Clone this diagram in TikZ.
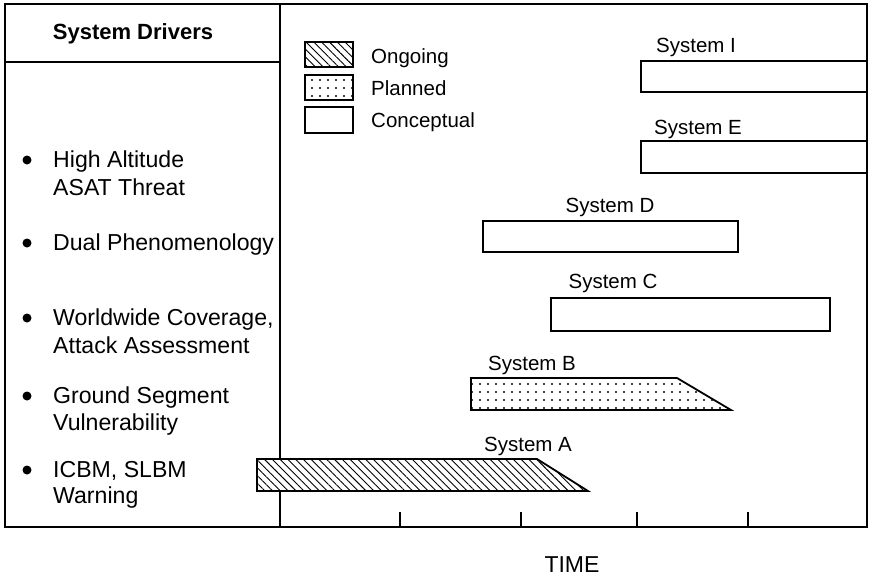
\documentclass[tikz,border=0pt]{standalone}
\usepackage{fontspec}
\setmainfont{Liberation Sans}
\usetikzlibrary{patterns.meta}
\begin{document}
\begin{tikzpicture}[x=1pt,y=-1pt,
  frame/.style={line width=2pt},
  bar/.style={line width=1.8pt},
  lab/.style={font=\fontsize{20.5}{24}\selectfont, inner sep=0pt, anchor=base},
  leg/.style={font=\fontsize{20.5}{24}\selectfont, inner sep=0pt, anchor=base west},
  drv/.style={font=\fontsize{23.1}{27}\selectfont, inner sep=0pt, anchor=base west},
  bul/.style={circle, fill, inner sep=0pt, minimum size=9pt},
  ongoing/.style={bar, preaction={fill=white}, pattern={Lines[angle=-45,distance=5.5pt,line width=0.9pt]}},
  planned/.style={bar, preaction={fill=white}, pattern={Dots[distance=8pt,radius=1.1pt]}},
  conceptual/.style={bar, fill=white},
]
\useasboundingbox (0,0) rectangle (869,576);

% frame
\draw[frame] (5,4) rectangle (867,527);
\draw[frame] (280,4) -- (280,527);
\draw[frame] (5,62) -- (280,62);
\foreach \t in {400,521,637,748} \draw[frame] (\t,527) -- (\t,512);

% header
\node[font=\fontsize{22}{26}\selectfont\bfseries, inner sep=0pt, anchor=base] (hdr) at (133,39) {System Drivers};

% drivers
\node[bul] (b1) at (27,160) {};
\node[drv] (d1a) at (53,167) {High Altitude};
\node[drv] (d1b) at (53,195) {ASAT Threat};
\node[bul] (b2) at (27,243) {};
\node[drv] (d2a) at (53,250) {Dual Phenomenology};
\node[bul] (b3) at (27,318) {};
\node[drv] (d3a) at (53,325) {Worldwide Coverage,};
\node[drv] (d3b) at (53,353) {Attack Assessment};
\node[bul] (b4) at (27,396) {};
\node[drv] (d4a) at (53,403) {Ground Segment};
\node[drv] (d4b) at (53,430) {Vulnerability};
\node[bul] (b5) at (27,470) {};
\node[drv] (d5a) at (53,477) {ICBM, SLBM};
\node[drv] (d5b) at (53,503) {Warning};

% legend
\draw[ongoing] (305,42) rectangle (353,67);
\draw[planned] (305,75) rectangle (353,100);
\draw[conceptual] (305,107) rectangle (353,133);
\node[leg] (lg1) at (371,63) {Ongoing};
\node[leg] (lg2) at (371,95) {Planned};
\node[leg] (lg3) at (371,127) {Conceptual};

% bars
\draw[conceptual] (641,61) rectangle (867,92);
\node[lab] (sI) at (696,52) {System I};
\draw[conceptual] (641,141) rectangle (867,173);
\node[lab] (sE) at (698,134) {System E};
\draw[conceptual] (483,221) rectangle (738,252);
\node[lab] (sD) at (610,212) {System D};
\draw[conceptual] (551,298) rectangle (830,331);
\node[lab] (sC) at (613,288) {System C};
\draw[planned] (471,378) -- (677,378) -- (731,410) -- (471,410) -- cycle;
\node[lab] (sB) at (532,370) {System B};
\draw[ongoing] (257,459) -- (537,459) -- (588,491) -- (257,491) -- cycle;
\node[lab] (sA) at (528,451) {System A};

% axis label
\node[font=\fontsize{23}{27}\selectfont, inner sep=0pt, anchor=base] (time) at (572,572) {TIME};
\end{tikzpicture}
\end{document}
